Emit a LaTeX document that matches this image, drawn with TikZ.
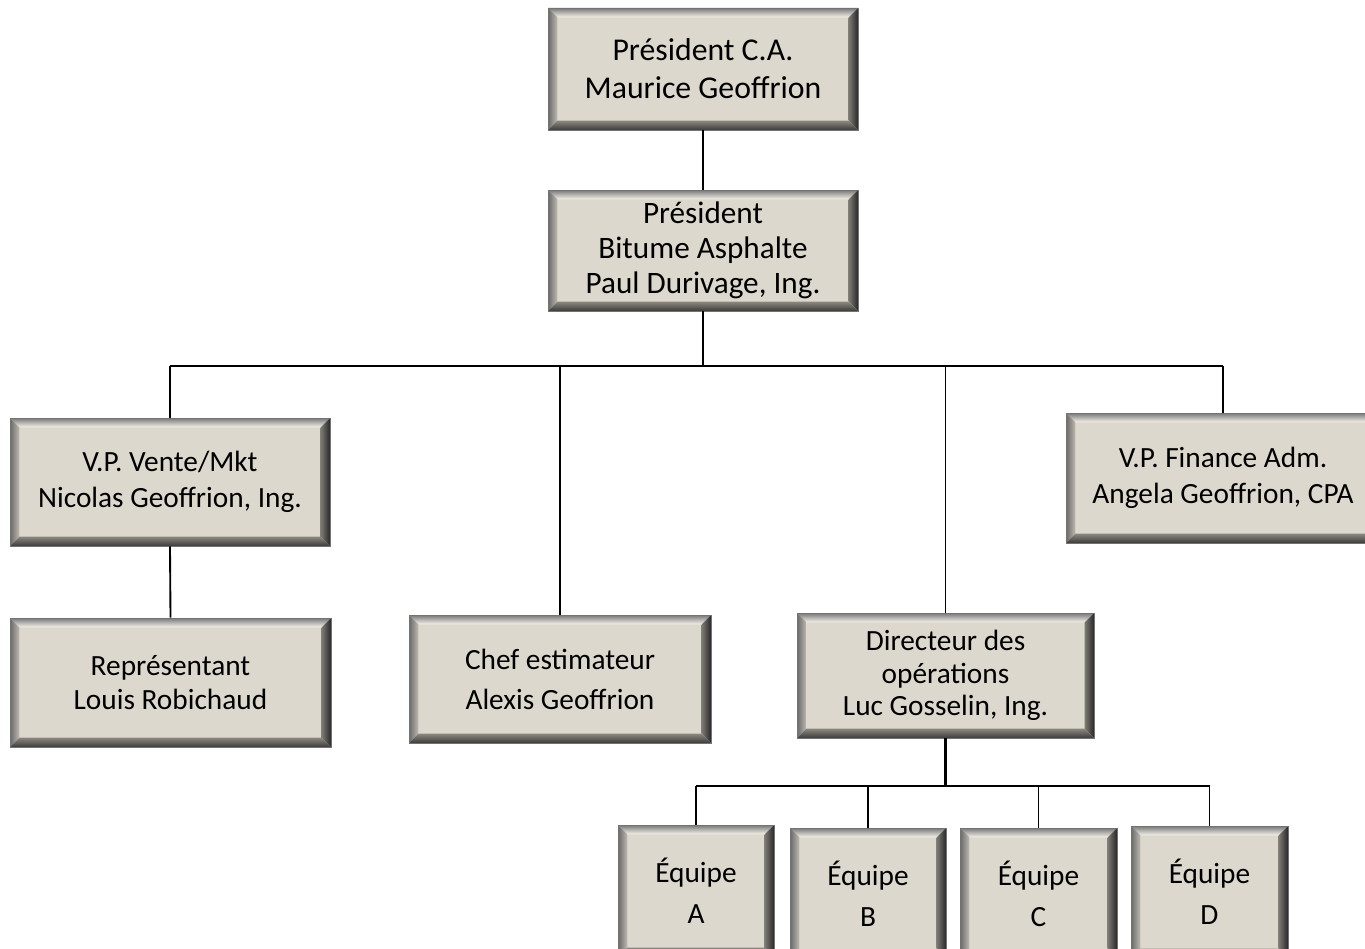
\documentclass[tikz,border=0pt]{standalone}
\usepackage{fontspec}
\setmainfont{Carlito}
\definecolor{boxfill}{RGB}{221,216,205}
\definecolor{bevTopOut}{RGB}{120,120,120}
\definecolor{bevTopIn}{RGB}{246,243,235}
\definecolor{bevLeftOut}{RGB}{105,105,105}
\definecolor{bevLeftIn}{RGB}{190,186,178}
\definecolor{bevRightOut}{RGB}{40,40,40}
\definecolor{bevRightIn}{RGB}{125,122,116}
\definecolor{bevBotOut}{RGB}{60,60,60}
\definecolor{bevBotIn}{RGB}{140,136,128}
\newcommand\bw{7pt}
\tikzset{
  orgbox/.style 2 args={
    rectangle, fill=boxfill, draw=black!55, line width=0.5pt,
    minimum width=#1*0.75pt, minimum height=#2*0.75pt,
    inner sep=0pt, align=center, text=black,
    font=\fontsize{22}{26}\selectfont,
    path picture={
      \path (path picture bounding box.south west) coordinate (@sw)
            (path picture bounding box.north east) coordinate (@ne)
            (path picture bounding box.north west) coordinate (@nw)
            (path picture bounding box.south east) coordinate (@se);
      \shade[top color=bevTopOut, bottom color=bevTopIn]
        (@nw) -- (@ne) -- ([xshift=-\bw,yshift=-\bw]@ne) -- ([xshift=\bw,yshift=-\bw]@nw) -- cycle;
      \shade[left color=bevLeftOut, right color=bevLeftIn]
        (@nw) -- ([xshift=\bw,yshift=-\bw]@nw) -- ([xshift=\bw,yshift=\bw]@sw) -- (@sw) -- cycle;
      \shade[left color=bevRightIn, right color=bevRightOut]
        (@ne) -- ([xshift=-\bw,yshift=-\bw]@ne) -- ([xshift=-\bw,yshift=\bw]@se) -- (@se) -- cycle;
      \shade[top color=bevBotIn, bottom color=bevBotOut]
        (@sw) -- ([xshift=\bw,yshift=\bw]@sw) -- ([xshift=-\bw,yshift=\bw]@se) -- (@se) -- cycle;
    }
  },
  conn/.style={draw=black, line width=1.4pt},
  thickconn/.style={draw=black, line width=2.6pt}
}
\begin{document}
\begin{tikzpicture}[x=0.75pt,y=-0.75pt]
\useasboundingbox (0,0) rectangle (1365,949);
\clip (0,0) rectangle (1365,949);
\fill[white] (0,0) rectangle (1365,949);

% nodes
\node[orgbox={310}{122}, font=\fontsize{23.8}{28.5}\selectfont] (ca) at (703,69) {Président C.A.\\Maurice Geoffrion};
\node[orgbox={310}{121}, font=\fontsize{23.4}{26}\selectfont] (pb) at (703,250.5) {Président\\Bitume Asphalte\\Paul Durivage, Ing.};
\node[orgbox={320}{128}, font=\fontsize{22}{27.5}\selectfont] (vpv) at (170,482) {V.P. Vente/Mkt\\Nicolas Geoffrion, Ing.};
\node[orgbox={314}{130}, font=\fontsize{22}{26.5}\selectfont] (vpf) at (1223,478) {V.P. Finance Adm.\\Angela Geoffrion, CPA};
\node[orgbox={321}{129}] (rep) at (170.5,682.5) {Représentant\\Louis Robichaud};
\node[orgbox={302}{128}, font=\fontsize{22}{30}\selectfont] (chef) at (560,679) {Chef estimateur\\Alexis Geoffrion};
\node[orgbox={297}{125}, font=\fontsize{22}{24.5}\selectfont] (dir) at (945.5,675.5) {Directeur des\\opérations\\Luc Gosselin, Ing.};
\node[orgbox={156}{132}, font=\fontsize{22}{31}\selectfont] (ea) at (696,891) {Équipe\\A};
\node[orgbox={156}{132}, font=\fontsize{22}{31}\selectfont] (eb) at (868,894) {Équipe\\B};
\node[orgbox={157}{132}, font=\fontsize{22}{31}\selectfont] (ec) at (1038.5,894) {Équipe\\C};
\node[orgbox={157}{132}, font=\fontsize{22}{31}\selectfont] (ed) at (1209.5,892) {Équipe\\D};

% junction coordinates
\coordinate (bus) at (706,366);
\coordinate (bus2) at (945,786);

% connectors
\draw[conn] (ca.south) -- (pb.north);
\draw[conn] (pb.south) -- (pb.south |- bus);
\draw[conn] (vpv.north |- bus) -- (vpf.north |- bus);
\draw[conn] (vpv.north |- bus) -- (vpv.north);
\draw[conn] (chef.north |- bus) -- (chef.north);
\draw[conn] (dir.north |- bus) -- (dir.north);
\draw[conn] (vpf.north |- bus) -- (vpf.north);
\draw[conn] (vpv.south) -- (rep.north);
\draw[thickconn] (dir.south) -- (dir.south |- bus2);
\draw[conn] (ea.north |- bus2) -- (ed.north |- bus2);
\draw[conn] (ea.north |- bus2) -- (ea.north);
\draw[conn] (eb.north |- bus2) -- (eb.north);
\draw[conn] (ec.north |- bus2) -- (ec.north);
\draw[conn] (ed.north |- bus2) -- (ed.north);
\end{tikzpicture}
\end{document}
